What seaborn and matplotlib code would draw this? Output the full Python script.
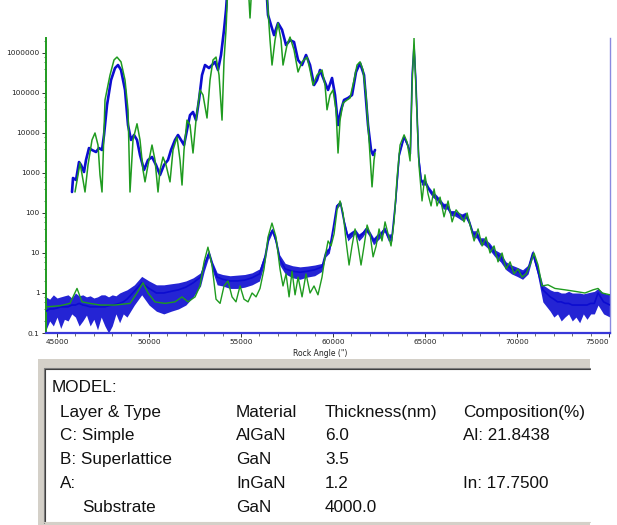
import matplotlib
matplotlib.use("Agg")
import numpy as np
import pandas as pd
import matplotlib.pyplot as plt
import seaborn as sns
from matplotlib.ticker import FixedLocator, FuncFormatter, LogLocator, NullFormatter, MultipleLocator
from matplotlib.patches import Rectangle
from matplotlib.lines import Line2D

sns.set_theme(style="white")
plt.rcParams['font.family'] = ['DejaVu Sans']

# ---------------- data: simulated (green) main curve ----------------
green_x = [44400, 45160, 45700, 46085, 46360, 46790, 47335, 48150, 48965, 49345, 49670, 49945, 50320, 50870,
           51410, 51790, 52120, 52500, 52770, 52990, 53200, 53420, 53640, 53860, 54075, 54290, 54510, 54725,
           54945, 55160, 55380, 55600, 55815, 56030, 56250, 56465, 56680, 56900, 57115, 57280, 57445, 57610,
           57770, 57935, 58100, 58315, 58530, 58750, 58965, 59180, 59400, 59565, 59730, 59890, 60055, 60220,
           60380, 60545, 60705, 60870, 61030, 61195, 61360, 61520, 61685, 61850, 62010, 62175, 62340, 62500,
           62660, 62825, 62990, 63150, 63315, 63480, 63640, 63860, 64020, 64185, 64295, 64400, 64510, 64670,
           64835, 64995, 65160, 65325, 65490, 65650, 65815, 66030, 66250, 66470, 66685, 66900, 67120, 67285,
           67445, 67665, 67880, 68100, 68315, 68530, 68750, 68965, 69185, 69400, 69620, 69835, 70050, 70270,
           70485, 70700, 70920, 71140, 71355, 71680, 72060, 72605, 73150, 73690, 74130, 74400, 74620, 75050]
green_y = [0.45, 0.48, 0.55, 1.3, 0.6, 0.55, 0.5, 0.5, 0.55, 1.0, 1.8, 1.0, 0.6, 0.55,
           0.6, 0.8, 0.6, 0.8, 1.5, 6, 14, 5, 0.7, 0.55, 1.5, 2.0, 0.8, 0.6,
           1.5, 0.7, 0.6, 1.0, 0.8, 1.3, 4, 25, 56, 25, 4, 1.5, 3, 0.8,
           3.5, 0.9, 2.5, 0.8, 3, 1.0, 1.5, 0.9, 2.5, 8, 20, 15, 30, 120,
           200, 100, 20, 5, 15, 40, 15, 5, 15, 50, 30, 8, 15, 40,
           20, 60, 30, 15, 60, 800, 5000, 9000, 6000, 2000, 1.5e5, 2.4e6, 1e5, 1500,
           200, 900, 300, 150, 400, 150, 250, 80, 200, 60, 120, 90, 60, 100,
           50, 20, 40, 15, 25, 10, 15, 6, 10, 4, 6, 3, 4, 2.5,
           3, 5, 10, 5, 1.5, 1.6, 1.3, 1.2, 1.1, 1.0, 1.2, 1.3, 1.0, 0.9]

# ---------------- data: measured (blue) main curve ----------------
blue_x = [44400, 44600, 44800, 45000, 45200, 45400, 45600, 45800, 46000, 46200, 46400, 46600, 46800,
          47000, 47200, 47400, 47600, 47800, 48000, 48200, 48400, 48600, 48800,
          49200, 49600, 50000, 50400, 50800, 51200, 51600, 52000, 52400, 52800,
          53000, 53250, 53450, 53700,
          54000, 54400, 54800, 55200, 55600, 56000,
          56300, 56500, 56700, 56900, 57100,
          57400, 57800, 58200, 58600, 59000, 59400,
          59600, 59800, 60000, 60200, 60400, 60600, 60800,
          61000, 61200, 61400, 61600, 61800, 62000, 62200, 62400, 62600, 62800, 63000, 63200,
          63400, 63600, 63850, 64050, 64200, 64300, 64400, 64500, 64650, 64800,
          65000, 65200, 65400, 65600, 65800, 66000, 66200, 66400, 66600, 66800, 67000, 67200, 67400,
          67600, 67800, 68000, 68200,
          68500, 68800, 69100, 69400, 69700, 70000, 70300, 70600, 70850, 71100, 71400,
          71800, 72000, 72200, 72400, 72600, 72800, 73000, 73200, 73400, 73600, 73800, 74000, 74200,
          74400, 74700, 75050]
blue_mid = [0.35, 0.4, 0.4, 0.42, 0.45, 0.45, 0.45, 0.5, 0.5, 0.55, 0.5, 0.48, 0.45,
            0.45, 0.45, 0.45, 0.45, 0.48, 0.5, 0.52, 0.55, 0.6, 0.7,
            1.1, 1.8, 1.3, 1.0, 1.0, 1.1, 1.2, 1.4, 1.8, 2.5,
            5, 10, 5, 2.5,
            2.2, 2.0, 2.0, 2.1, 2.4, 3,
            8, 25, 37, 20, 7,
            4, 3.5, 3.3, 3.5, 3.8, 4.5,
            10, 12, 40, 150, 180, 60, 25,
            30, 35, 25, 30, 40, 30, 20, 25, 30, 40, 25, 25,
            200, 3000, 8000, 5000, 3000, 3e5, 1.5e6, 2e5, 2500, 600,
            600, 400, 300, 250, 200, 150, 150, 100, 100, 90, 80, 90, 60,
            30, 30, 20, 20,
            15, 10, 8, 5, 4, 3.5, 3, 4, 10, 4, 1.2,
            0.8, 0.7, 0.6, 0.6, 0.55, 0.55, 0.5, 0.5, 0.5, 0.5, 0.5, 0.55, 0.55,
            1.0, 0.6, 0.5]
blue_lo = [0.12, 0.2, 0.15, 0.25, 0.13, 0.22, 0.2, 0.3, 0.25, 0.15, 0.2, 0.28, 0.15,
           0.22, 0.12, 0.25, 0.15, 0.1, 0.15, 0.3, 0.18, 0.3, 0.25,
           0.5, 0.9, 0.5, 0.35, 0.3, 0.35, 0.4, 0.5, 0.8, 1.5,
           3.5, 8, 3.5, 1.6,
           1.5, 1.3, 1.3, 1.4, 1.6, 2,
           6, 20, 32, 16, 5,
           3, 2.4, 2.2, 2.5, 2.7, 3.5,
           8, 10, 35, 130, 160, 50, 20,
           25, 30, 20, 25, 34, 25, 16, 20, 25, 34, 20, 20,
           170, 2600, 7000, 4300, 2600, 2.6e5, 1.3e6, 1.7e5, 2100, 500,
           500, 340, 250, 210, 170, 125, 125, 85, 85, 75, 65, 75, 50,
           24, 24, 16, 16,
           12, 8, 6, 3.8, 3, 2.6, 2.2, 3, 8, 3, 0.6,
           0.35, 0.25, 0.3, 0.2, 0.25, 0.3, 0.2, 0.25, 0.18, 0.3, 0.22, 0.3, 0.3,
           0.5, 0.3, 0.25]
blue_hi = [0.8, 0.7, 0.9, 0.75, 0.8, 0.85, 0.9, 0.75, 1.0, 0.85, 0.9, 0.8, 0.85,
           0.75, 0.8, 0.9, 0.9, 0.8, 0.9, 0.85, 1.0, 1.1, 1.2,
           1.6, 2.6, 2.0, 1.6, 1.6, 1.7, 1.8, 2.0, 2.4, 3.2,
           6, 12, 6, 3.2,
           2.9, 2.7, 2.8, 2.9, 3.2, 4,
           10, 30, 42, 24, 9,
           5.5, 4.8, 4.5, 4.7, 5, 5.5,
           12, 14, 46, 170, 200, 70, 30,
           35, 40, 30, 35, 46, 35, 24, 30, 35, 46, 30, 30,
           230, 3400, 9000, 5700, 3400, 3.4e5, 1.7e6, 2.3e5, 2900, 700,
           700, 460, 350, 290, 230, 175, 175, 115, 115, 105, 95, 105, 70,
           36, 36, 24, 24,
           18, 12, 10, 6, 5, 4.4, 3.8, 5, 12, 5, 1.6,
           1.2, 1.1, 1.1, 1.0, 1.0, 1.1, 1.0, 1.0, 1.0, 0.95, 1.0, 1.05, 1.1,
           1.3, 1.0, 0.9]

# ---------------- data: magnified inset (drawn in the same axes) ----------------
inset_green_x = [45976, 46139, 46248, 46411, 46520, 46683, 46900, 47063, 47226, 47335, 47444, 47607, 47878,
                 48096, 48259, 48476, 48694, 48857, 48965, 49128, 49346, 49509, 49672, 49781, 49944, 50161,
                 50324, 50487, 50596, 50759, 50922, 51139, 51302, 51520, 51683, 51792, 51900, 52063, 52226,
                 52389, 52552, 52770, 52933, 53150, 53313, 53476, 53640, 53803, 53966, 54075, 54183, 54292,
                 55380, 55487, 55596, 56357, 56465, 56574, 56683, 56846, 57009, 57172, 57281, 57498, 57661,
                 57879, 58096, 58314, 58585, 58748, 58911, 59129, 59401, 59564, 59672, 59835, 59998, 60161,
                 60270, 60379, 60542, 60759, 60922, 61140, 61303, 61466, 61629, 61792, 61955, 62118, 62226, 62281]
inset_green_y = [335, 890, 1780, 670, 335, 1590, 6700, 10000, 5000, 890, 335, 67000, 2.8e5,
                 6.7e5, 7.9e5, 6e5, 2.1e5, 3.8e4, 335, 6700, 1.7e4, 6700, 1190, 600, 1590, 5000,
                 2100, 335, 1190, 2500, 1590, 600, 3760, 7900, 2100, 500, 3760, 2.1e4, 1.58e4,
                 3160, 2.1e4, 1.19e5, 8.9e4, 2.37e4, 2.1e5, 6.7e5, 7.9e5, 2.8e5, 2.1e4, 6.7e5, 3.8e6, 6e7,
                 6e7, 7.5e6, 6e7, 6e7, 1.19e7, 2.1e6, 5e5, 2.1e6, 5.6e6, 2.1e6, 5e5, 1.58e6, 2.5e6,
                 1.19e6, 3.35e5, 6e5, 7.9e5, 3.76e5, 1.58e5, 2.8e5, 3.76e5, 1.58e5, 3.8e4, 8.9e4, 1.19e5, 3.8e4,
                 3160, 2.1e4, 5.6e4, 6.7e4, 7.5e4, 2.1e5, 5e5, 6e5, 3.76e5, 8.9e4, 6700, 450, 2100, 3160]
inset_blue_x = [45813, 45868, 46031, 46194, 46303, 46466, 46574, 46737, 46900, 47117, 47280, 47444, 47553,
                47716, 47933, 48150, 48313, 48476, 48694, 48857, 49020, 49183, 49346, 49509, 49727, 49944,
                50161, 50378, 50596, 50813, 51030, 51193, 51411, 51574, 51737, 51900, 52063, 52226, 52389,
                52552, 52715, 52878, 53041, 53258, 53422, 53585, 53748, 53911, 54075, 54183, 54292,
                56357, 56465, 56628, 56792, 57009, 57226, 57444, 57661, 57879, 58096, 58314, 58531, 58748,
                58965, 59129, 59292, 59510, 59727, 59944, 60107, 60270, 60433, 60596, 60814, 61031, 61248,
                61466, 61683, 61900, 62063, 62172, 62281]
inset_blue_y = [335, 750, 670, 1880, 1590, 1060, 2110, 4200, 3760, 3350, 4200, 3760, 8900,
                5e4, 2.1e5, 4.2e5, 5e5, 3.76e5, 1.19e5, 1.58e4, 6700, 8900, 6700, 2820, 1190, 2110,
                2510, 1590, 890, 1590, 2110, 3760, 6700, 8900, 6700, 5000, 1.19e4, 2.8e4, 3.35e4,
                2.1e4, 6.7e4, 2.8e5, 5e5, 4.2e5, 5e5, 6e5, 3.76e5, 8.9e5, 3.8e6, 1.19e7, 6e7,
                6e7, 8.9e6, 5e6, 2.8e6, 5.6e6, 3.8e6, 1.58e6, 2.1e6, 1.88e6, 6.7e5, 5e5, 8.9e5, 5e5,
                1.58e5, 2.1e5, 3.76e5, 2.1e5, 1.19e5, 2.37e5, 8.9e4, 1.58e4, 3.8e4, 6.7e4, 7.5e4, 8.9e4, 3.35e5,
                5.6e5, 2.8e5, 1.58e4, 3760, 2820, 3760]

# ---------------- data: model table ----------------
table_title = "MODEL:"
col_headers = ["Layer & Type", "Material", "Thickness(nm)", "Composition(%)"]
layers = ["C: Simple", "B: Superlattice", "A:", "Substrate"]
materials = ["AlGaN", "GaN", "InGaN", "GaN"]
thickness = ["6.0", "3.5", "1.2", "4000.0"]
composition = ["Al: 21.8438", "", "In: 17.7500", ""]

y_ticks = [0.1, 1, 10, 100, 1000, 10000, 100000, 1000000]
x_ticks = [45000, 50000, 55000, 60000, 65000, 70000, 75000]

BLUE = "#0c0cd0"
GREEN = "#1f9b1f"

W, H = 617, 525
fig = plt.figure(figsize=(W / 100, H / 100), dpi=100)
fig.patch.set_facecolor("white")
ax = fig.add_axes([46 / W, 1 - 333 / H, 564 / W, 295 / H], zorder=2)
ax.set_facecolor("white")
ax.set_yscale("log")

df_green = pd.DataFrame({"angle": green_x, "counts": green_y})
df_blue = pd.DataFrame({"angle": blue_x, "counts": blue_mid})
df_ig = pd.DataFrame({"angle": inset_green_x, "counts": inset_green_y})
df_ib = pd.DataFrame({"angle": inset_blue_x, "counts": inset_blue_y})

ax.fill_between(blue_x, blue_lo, blue_hi, color=BLUE, alpha=0.9, lw=0, zorder=2)
sns.lineplot(data=df_blue, x="angle", y="counts", ax=ax, color=BLUE, lw=1.2,
             estimator=None, sort=False, zorder=3)
sns.lineplot(data=df_green, x="angle", y="counts", ax=ax, color=GREEN, lw=1.0,
             estimator=None, sort=False, zorder=4)

sns.lineplot(data=df_ib, x="angle", y="counts", ax=ax, color=BLUE, lw=1.9,
             estimator=None, sort=False, zorder=5, clip_on=False)
sns.lineplot(data=df_ig, x="angle", y="counts", ax=ax, color=GREEN, lw=1.1,
             estimator=None, sort=False, zorder=6, clip_on=False)

ax.set_xlim(44400, 75050)
ax.set_ylim(0.1, 2.37e6)

ax.yaxis.set_major_locator(FixedLocator(y_ticks))
ax.yaxis.set_major_formatter(FuncFormatter(lambda v, p: "0.1" if v < 1 else f"{int(round(v))}"))
ax.yaxis.set_minor_locator(LogLocator(base=10, subs=[2, 4, 6, 8], numticks=20))
ax.yaxis.set_minor_formatter(NullFormatter())
ax.xaxis.set_major_locator(FixedLocator(x_ticks))
ax.xaxis.set_major_formatter(FuncFormatter(lambda v, p: f"{int(v)}"))
ax.xaxis.set_minor_locator(MultipleLocator(1000))

ax.tick_params(axis="both", which="major", direction="out", length=3, width=0.7,
               colors="#333333", labelsize=5.3, pad=1.5, left=True, bottom=True)
ax.tick_params(axis="both", which="minor", direction="out", length=1.8, width=0.6,
               colors="#555555", left=True, bottom=True)
fig.canvas.draw()
xlabels = ax.get_xticklabels()
for lab in xlabels + ax.get_yticklabels():
    lab.set_color("#222222")
xlabels[-1].set_horizontalalignment("right")

ax.spines["top"].set_visible(False)
ax.spines["left"].set_color(GREEN)
ax.spines["left"].set_linewidth(1.4)
ax.spines["bottom"].set_color("#3838d8")
ax.spines["bottom"].set_linewidth(1.6)
ax.spines["right"].set_color("#8a8ae0")
ax.spines["right"].set_linewidth(1.0)

ax.set_xlabel("")
ax.set_ylabel("")
fig.text(320 / W, 1 - 354 / H, "Rock Angle (\")", ha="center", va="center",
         fontsize=5.5, color="#222222")

# ---------------- model table panel ----------------
tab = fig.add_axes([0, 0, 1, 1], zorder=1)
tab.set_xlim(0, W)
tab.set_ylim(H, 0)
tab.axis("off")
tab.patch.set_alpha(0)

tab.add_patch(Rectangle((38, 359), 552, 166, facecolor="#d4d0c8", edgecolor="none"))
tab.add_patch(Rectangle((44, 368), 546, 154, facecolor="white", edgecolor="none"))
tab.add_line(Line2D([43.5, 590], [367.5, 367.5], color="#808080", lw=0.8))
tab.add_line(Line2D([44.5, 590], [368.8, 368.8], color="#404040", lw=0.8))
tab.add_line(Line2D([43.5, 43.5], [367.5, 523], color="#808080", lw=0.8))
tab.add_line(Line2D([44.8, 44.8], [368.8, 522], color="#404040", lw=0.8))
tab.add_line(Line2D([44, 590], [521.5, 521.5], color="#d4d0c8", lw=0.8))

tfont = dict(family=["Liberation Sans", "DejaVu Sans"], fontsize=12.3, color="#111111",
             va="baseline", ha="left")
tab.text(52, 392, table_title, **tfont)
col_x = [60, 236, 325, 463]
row_base = [417, 440, 464, 488, 512]
for cx, h in zip(col_x, col_headers):
    tab.text(cx, row_base[0], h, **tfont)
for i in range(len(layers)):
    y = row_base[i + 1]
    lx = col_x[0] + (22 if i == len(layers) - 1 else 0)
    tab.text(lx, y, layers[i], **tfont)
    tab.text(col_x[1], y, materials[i], **tfont)
    tab.text(col_x[2], y, thickness[i], **tfont)
    if composition[i]:
        tab.text(col_x[3], y, composition[i], **tfont)

fig.savefig("out.png", dpi=100, facecolor="white")
